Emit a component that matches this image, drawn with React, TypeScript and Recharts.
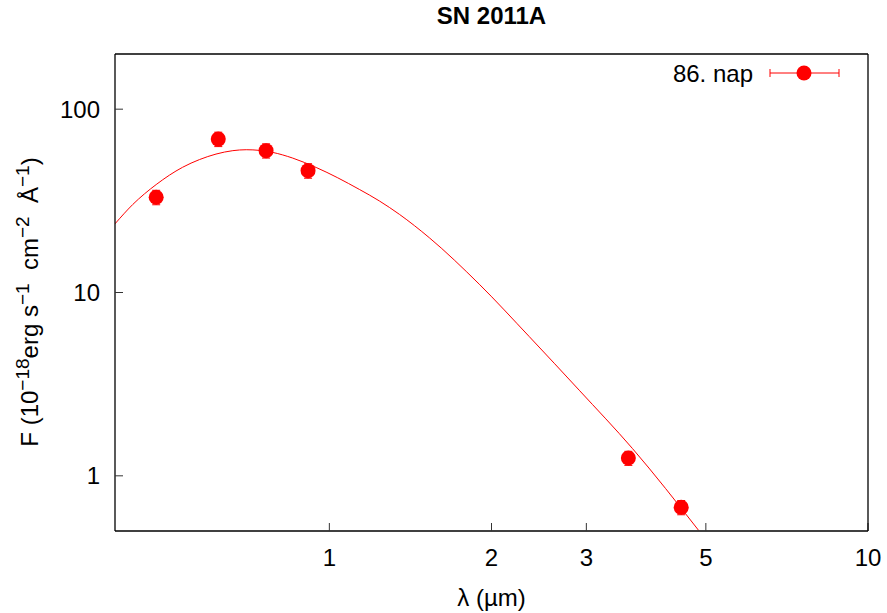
import { ComposedChart, Line, Scatter, ErrorBar, XAxis, YAxis, Label, Legend } from 'recharts';

// photometry of SN 2011A (wavelength in µm, flux in 1e-18 erg/s/cm2/A)
const bandLambda = [0.477, 0.622, 0.763, 0.913, 3.59, 4.5];
const bandFlux = [33.1, 68.7, 59.4, 46.2, 1.25, 0.673];
const bandErr = [3.0, 6.2, 5.3, 4.2, 0.11, 0.06];

// fitted curve
const curveLambda = [0.4, 0.4315, 0.477, 0.534, 0.574, 0.616, 0.662, 0.701, 0.742, 0.785, 0.855, 0.945, 1.137, 1.238, 1.349, 1.533, 1.898, 2.35, 2.91, 3.653, 4.845];
const curveFlux = [23.7, 30.2, 38.8, 48.2, 53.1, 56.9, 59.4, 60.1, 59.6, 58.1, 54.1, 48.1, 36.5, 31.6, 26.7, 19.9, 11.1, 5.75, 2.93, 1.41, 0.505];

const xTicks = [1, 2, 3, 5, 10];
const yTicks = [1, 10, 100];
const legendName = '86. nap';

const points = bandLambda.map((x, i) => ({ x, y: bandFlux[i], err: bandErr[i] }));
const curve = curveLambda.map((x, i) => ({ x, y: curveFlux[i] }));

const FONT = '"Liberation Sans", Arial, Helvetica, sans-serif';
const RED = '#ff0000';

const YTitle = () => (
  <text
    transform="translate(38, 302) rotate(-90)"
    textAnchor="middle"
    fontFamily={FONT}
    fontSize={24}
    fill="#000"
    style={{ whiteSpace: 'pre' }}
  >
    F (10
    <tspan dy={-9} fontSize={19}>−18</tspan>
    <tspan dy={9}>erg s</tspan>
    <tspan dy={-9} fontSize={19}>−1</tspan>
    <tspan dy={9}>  cm</tspan>
    <tspan dy={-9} fontSize={19}>−2</tspan>
    <tspan dy={9}>  Å</tspan>
    <tspan dy={-9} fontSize={19}>−1</tspan>
    <tspan dy={9}>)</tspan>
  </text>
);

const LegendBox = () => (
  <svg width={230} height={30} style={{ display: 'block' }}>
    <text x={113} y={24} textAnchor="end" fontFamily={FONT} fontSize={24} fill="#000">
      {legendName}
    </text>
    <line x1={130} y1={15} x2={199} y2={15} stroke={RED} strokeWidth={1} />
    <line x1={130} y1={11} x2={130} y2={19} stroke={RED} strokeWidth={1} />
    <line x1={199} y1={11} x2={199} y2={19} stroke={RED} strokeWidth={1} />
    <circle cx={164} cy={15} r={7.5} fill={RED} />
  </svg>
);

export default function App() {
  return (
    <div style={{ position: 'absolute', left: 0, top: 0, background: '#fff' }}>
      <ComposedChart width={887} height={613} margin={{ top: 53, right: 18, bottom: 0, left: 0 }}>
        <XAxis
          dataKey="x"
          type="number"
          scale="log"
          domain={[0.4, 10]}
          allowDataOverflow
          ticks={xTicks}
          height={82}
          tickSize={-8}
          tickMargin={26}
          axisLine={{ stroke: '#000', strokeWidth: 1.3 }}
          tickLine={{ stroke: '#333' }}
          tick={{ fill: '#000', fontSize: 24, fontFamily: FONT }}
        >
          <Label value="λ (µm)" position="insideBottom" offset={7} fill="#000" fontSize={24} fontFamily={FONT} />
        </XAxis>
        <XAxis
          xAxisId="top"
          orientation="top"
          dataKey="x"
          type="number"
          scale="log"
          domain={[0.4, 10]}
          allowDataOverflow
          ticks={xTicks}
          height={1}
          tickSize={-8}
          tick={false}
          axisLine={{ stroke: '#000', strokeWidth: 1.3 }}
          tickLine={{ stroke: '#333' }}
        >
          <Label value="SN 2011A" position="top" offset={29} fill="#000" fontSize={24} fontWeight="bold" fontFamily={FONT} />
        </XAxis>
        <YAxis
          dataKey="y"
          type="number"
          scale="log"
          domain={[0.5, 200]}
          allowDataOverflow
          ticks={yTicks}
          width={115}
          tickSize={-8}
          tickMargin={23}
          axisLine={{ stroke: '#000', strokeWidth: 1.3 }}
          tickLine={{ stroke: '#333' }}
          tick={{ fill: '#000', fontSize: 24, fontFamily: FONT }}
        >
          <Label content={() => <YTitle />} />
        </YAxis>
        <YAxis
          yAxisId="right"
          orientation="right"
          dataKey="y"
          type="number"
          scale="log"
          domain={[0.5, 200]}
          allowDataOverflow
          ticks={yTicks}
          width={1}
          tickSize={-8}
          tick={false}
          axisLine={{ stroke: '#000', strokeWidth: 1.3 }}
          tickLine={{ stroke: '#333' }}
        />
        <Legend
          verticalAlign="middle"
          align="center"
          layout="horizontal"
          content={() => <LegendBox />}
          wrapperStyle={{ top: 58, left: 640, width: 230 }}
        />
        {/* invisible copy of the fit, only to tie the mirrored top/right axes */}
        <Line
          data={curve}
          dataKey="y"
          xAxisId="top"
          yAxisId="right"
          stroke="none"
          dot={false}
          legendType="none"
          isAnimationActive={false}
        />
        <Line
          data={curve}
          dataKey="y"
          type="monotone"
          stroke={RED}
          strokeWidth={1}
          dot={false}
          legendType="none"
          isAnimationActive={false}
        />
        <Scatter
          data={points}
          dataKey="y"
          name={legendName}
          fill={RED}
          isAnimationActive={false}
          shape={(p: any) => <circle cx={p.cx} cy={p.cy} r={7.5} fill={RED} />}
        >
          <ErrorBar dataKey="err" direction="y" width={4} stroke={RED} strokeWidth={1} isAnimationActive={false} />
        </Scatter>
      </ComposedChart>
    </div>
  );
}
